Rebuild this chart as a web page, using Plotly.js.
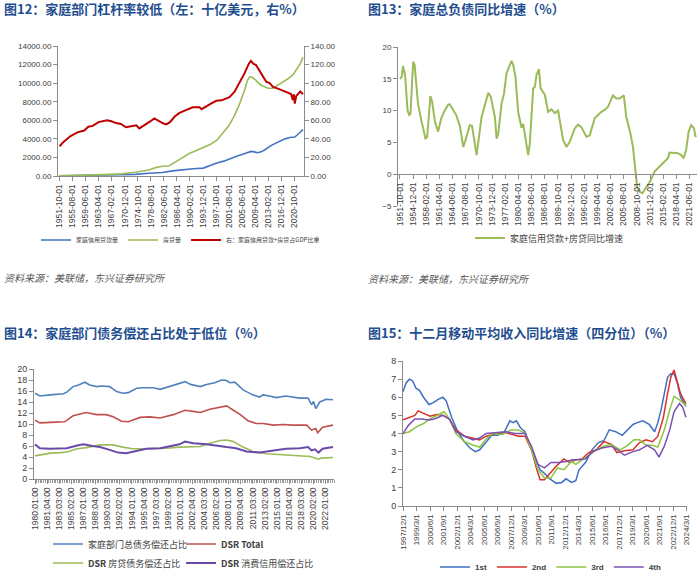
<!DOCTYPE html>
<html><head><meta charset="utf-8">
<script src="https://cdn.plot.ly/plotly-3.0.1.min.js"></script>
<style>html,body{margin:0;padding:0;background:#fff}#c{width:700px;height:573px}</style>
</head><body><div id="c"></div>
<script>
// ---------- Panel 1 (图12) ----------
const p1TickLabels = ["1951-10-01","1955-08-01","1959-06-01","1963-04-01","1967-02-01","1970-12-01","1974-10-01","1978-08-01","1982-06-01","1986-04-01","1990-02-01","1993-12-01","1997-10-01","2001-08-01","2005-06-01","2009-04-01","2013-02-01","2016-12-01","2020-10-01"];
const p1CreditX = [1951.75,1956,1960,1965,1970,1974,1978,1982,1985,1988,1991,1994,1996,1998,2000,2002,2004,2006,2008,2009,2010,2011,2012,2014,2016,2018,2019.5,2020.3,2020.9,2022,2023.3];
const p1Credit  = [20,40,60,90,130,180,300,380,550,700,780,850,1150,1400,1600,1900,2150,2400,2650,2600,2500,2600,2800,3300,3650,4000,4150,4150,4200,4550,5000];
const p1MortX = [1951.75,1956,1960,1965,1970,1974,1978,1980,1982,1984,1986,1988,1990,1992,1994,1996,1998,2000,2001.5,2003,2004.5,2006,2007,2007.7,2008.5,2009.5,2010.5,2011.5,2013,2014.5,2016,2017.5,2019,2020.4,2021.5,2022.5,2023.3];
const p1Mort  = [20,40,80,150,230,400,650,900,1050,1100,1550,2000,2450,2750,3050,3400,3850,4700,5400,6400,7600,9100,10300,10700,10600,10300,9900,9700,9450,9450,9800,10100,10500,10900,11500,12100,12800];
const p1RatioX = [1951.75,1953,1955,1957,1959,1960.2,1961.5,1963.2,1965.7,1967,1968.4,1969.8,1971.3,1973,1974.3,1975.2,1977,1978.5,1979.6,1981,1982.3,1983.1,1984.2,1985.6,1987,1988.9,1990.9,1992.9,1993.5,1996,1997.8,1999.4,2000.7,2001.7,2003.2,2004.6,2006.1,2007.4,2008,2008.7,2009.5,2011,2012.5,2013.5,2014.5,2016.5,2018.5,2019.8,2020.3,2020.6,2020.9,2021.3,2022,2022.5,2023.3];
const p1Ratio  = [32,37,43,47,49,53,54,58,60,59,57,56,52.5,54,54.5,51.3,55,59,62,59,56.5,55.6,58,64,68,71,74,74,72,77.5,81,81.5,83.6,85,90.7,99.7,110.5,121,124,121,119.5,110.5,101.5,100,96,93.3,90.7,88.3,81.8,88,78,86,89,91,88];

// ---------- Panel 2 (图13) ----------
const p2TickLabels = ["1951-10-01","1954-12-01","1958-02-01","1961-04-01","1964-06-01","1967-08-01","1970-10-01","1973-12-01","1977-02-01","1980-04-01","1983-06-01","1986-08-01","1989-10-01","1992-12-01","1996-02-01","1999-04-01","2002-06-01","2005-08-01","2008-10-01","2011-12-01","2015-02-01","2018-04-01","2021-06-01"];
const p2X = [1951.75,1952.2,1952.5,1953,1953.6,1954,1954.3,1954.95,1955.3,1956.1,1956.9,1957.9,1958.3,1959.1,1959.5,1960.2,1960.95,1961.7,1962.5,1963.35,1963.75,1964.5,1965.3,1966.2,1967,1967.5,1968.55,1969.1,1969.7,1970.2,1971.4,1972.6,1973,1973.6,1974.6,1975,1975.4,1976.2,1976.8,1977.4,1978.2,1978.6,1979,1979.55,1980.2,1980.6,1981,1981.4,1982,1982.6,1983,1983.8,1984.2,1984.6,1985.2,1985.6,1986.6,1987.4,1988.2,1989,1989.8,1991,1991.8,1992.6,1993.8,1994.6,1995.4,1996.6,1997.4,1998.6,1999.4,2000.2,2001,2001.8,2003,2003.8,2004.6,2005.6,2006.2,2007.2,2007.8,2008.4,2008.8,2009.5,2010.1,2010.8,2011.6,2012.4,2013,2014.2,2015.4,2016.2,2016.6,2018.6,2019.4,2020,2020.6,2021.2,2021.8,2022.5,2022.8,2023];
const p2Growth = [15,15.3,17,15.6,10,9.3,9.5,17.7,17.2,11.1,8.5,5.6,5.8,12.3,11.4,8.2,6.7,8.8,10,10.9,11,10.1,9.3,7.5,4.3,5.3,7.7,7.6,5.3,3,9,11.7,12.8,12.2,9,5.6,6.3,11.1,12.7,15.9,17.4,17.8,17.2,15.3,9.8,8.5,7.3,7.9,5.6,3,4.8,13.5,13.7,15.6,16.5,13.5,12.5,9.8,10.2,9.6,10,5.4,4.3,5.1,7.2,7.8,7.4,5.9,6.1,8.8,9.3,9.8,10.1,10.6,12.4,11.9,11.9,12.4,9,6.4,4.3,0.4,-2,-2.8,-3,-2.2,-1.5,-0.5,0.4,1.2,1.9,2.5,3.4,3.3,3,2.5,3.9,6.7,7.7,7.2,5.9,6.1];

// ---------- Panel 3 (图14) ----------
const p3TickLabels = ["1980:01:00","1981:04:00","1983:03:00","1985:02:00","1987:01:00","1988:04:00","1990:03:00","1992:02:00","1994:01:00","1995:04:00","1997:03:00","1999:02:00","2001:01:00","2002:04:00","2004:03:00","2006:02:00","2008:01:00","2009:04:00","2011:03:00","2013:02:00","2015:01:00","2016:04:00","2018:03:00","2020:02:00","2022:01:00"];
const p3TotalX = [1980,1980.7,1982.2,1984.1,1984.6,1985.5,1986.3,1987.2,1987.9,1988.9,1989.6,1990.8,1991.8,1992.7,1993.5,1994.7,1995.6,1997.1,1998.1,1999.5,2000.9,2001.7,2002.5,2003.9,2004.8,2006,2007,2007.7,2008.2,2008.9,2010.1,2011.5,2012.5,2013,2013.9,2014.9,2016.3,2017.3,2018.3,2019.5,2020,2020.3,2020.6,2021.2,2022.1,2023.1];
const p3Total  = [15.6,15.1,15.3,15.5,15.8,16.8,17.1,17.6,17.1,16.8,16.9,16.8,15.9,15.6,15.7,16.5,16.6,16.6,16.3,16.8,17.4,17.7,17.2,16.8,17.2,17.5,18,17.9,17.5,17.6,16.2,15.3,14.9,15.3,15.1,14.8,15.1,14.9,14.7,14.7,13.5,14.1,12.8,14,14.5,14.4];
const p3DsrX = [1980,1980.7,1982.2,1984.3,1985.5,1986.7,1987.4,1988.9,1990.3,1991.3,1992.5,1993.5,1995.2,1996.6,1998.1,2000,2001.7,2002.9,2003.9,2005.3,2006.8,2007.7,2008.7,2009.7,2010.8,2012,2013,2014.5,2015.9,2017.3,2019.3,2020,2020.6,2020.9,2021.6,2023.1];
const p3Dsr  = [10.7,10.2,10.3,10.4,11.5,11.9,12.1,11.7,11.7,11.3,10.5,10.4,11.2,11.3,11.1,11.7,12.5,12.3,12.1,12.7,13,13.3,12.5,11.7,10.6,10.1,10.1,9.8,9.9,9.8,9.8,8.9,9.2,8.4,9.4,9.8];
const p3MortX = [1980,1982.2,1983.7,1984.6,1986.1,1987.4,1989.4,1991.3,1992.7,1994.1,1995.6,1997.5,1999,2000.9,2002.9,2003.9,2005.3,2006.8,2007.7,2008.7,2010.1,2011.5,2013.5,2014.9,2016.3,2018.3,2019.8,2020.5,2021,2021.4,2023.1];
const p3Mort  = [4.2,4.7,4.8,4.9,5.5,5.7,6.2,6.2,5.8,5.5,5.5,5.5,5.6,5.8,5.8,5.9,6.5,7,7.1,6.8,5.8,5,4.6,4.5,4.3,4.2,4.1,3.8,3.6,3.8,3.9];
const p3ConsX = [1980,1980.7,1982.2,1983.7,1984.6,1986.1,1987,1988.3,1989.4,1990.8,1992,1993.2,1994.7,1996.1,1998.1,1999.5,2000.9,2001.7,2002.9,2004.8,2006.2,2007.7,2009.1,2010.6,2012.5,2013.5,2014.9,2016.3,2018.3,2019.5,2020,2020.5,2021,2021.6,2023.1];
const p3Cons  = [6.3,5.6,5.5,5.5,5.6,6.1,6.3,6,5.8,5.3,4.8,4.7,5.1,5.5,5.6,6,6.3,6.8,6.5,6.3,6,5.8,5.6,5,4.8,5,5.2,5.5,5.6,5.8,5.2,5.4,4.8,5.5,5.8];

// ---------- Panel 4 (图15) ----------
const p4TickLabels = ["1997/12/1","1999/3/1","2000/6/1","2001/9/1","2002/12/1","2004/3/1","2005/6/1","2006/9/1","2007/12/1","2009/3/1","2010/6/1","2011/9/1","2012/12/1","2014/3/1","2015/6/1","2016/9/1","2017/12/1","2019/3/1","2020/6/1","2021/9/1","2022/12/1","2024/3/1"];
const p4Q1X = [1997.9,1998.2,1998.5,1998.8,1999.1,1999.4,1999.8,2000.3,2000.7,2001.2,2001.6,2001.9,2002.4,2002.9,2003.5,2004.1,2004.6,2005,2005.7,2006.1,2006.7,2007.3,2007.8,2008.1,2008.4,2008.8,2009.2,2009.8,2010.3,2010.6,2011,2011.5,2012.1,2012.6,2013,2013.5,2013.9,2014.2,2014.8,2015.4,2016,2016.5,2017,2017.6,2018.2,2018.7,2019.2,2019.6,2020.1,2020.7,2021.2,2021.5,2021.8,2022.1,2022.4,2022.7,2023,2023.3,2023.6,2024.1];
const p4Q1  = [6.3,6.8,7,6.9,6.5,6.4,6,5.6,5.7,5.9,6,5.8,4.9,4.2,3.6,3.2,3,3.1,3.6,3.9,3.9,4.1,4.7,4.6,4.7,4.3,4.1,3.1,2.4,2,1.8,1.5,1.25,1.3,1.5,1.3,1.4,2,2.4,3.1,3.5,3.6,4.2,4.1,3.9,4.2,4.5,4.6,4.7,4.5,4.1,4.6,5.3,6.2,7.1,7.3,7.3,6.8,6,5.5];
const p4Q2X = [1997.9,1998.4,1999,1999.3,1999.8,2000.4,2001,2001.6,2002.2,2002.8,2003.6,2004.4,2005,2005.6,2006.5,2007.4,2008,2008.6,2009.2,2009.8,2010.3,2010.6,2011,2011.5,2012.1,2012.8,2013.3,2013.9,2014.5,2015.1,2015.8,2016.5,2017.2,2017.7,2018.4,2019.2,2019.8,2020.4,2021,2021.5,2022,2022.4,2022.7,2023,2023.3,2023.6,2024.1];
const p4Q2  = [4.75,4.85,5,5.25,5.1,4.95,5.05,5,4.8,4.2,3.85,3.75,3.65,3.85,4,4.05,3.95,3.85,3.85,3.1,2,1.45,1.45,1.8,2.2,2.6,2.4,2.55,2.6,2.95,3.1,3.55,3.4,2.95,3.05,3.1,3.5,3.65,3.55,3.85,4.85,6.2,7.1,7.5,6.8,6.2,5.65];
const p4Q3X = [1997.9,1998.5,1999.1,1999.8,2000.4,2001,2001.7,2002.2,2002.8,2003.6,2004.4,2005,2005.6,2006.2,2007.1,2007.9,2008.6,2009.2,2009.8,2010.4,2011,2011.6,2012.2,2012.8,2013.5,2013.9,2014.5,2015.1,2015.8,2016.5,2017.2,2018,2018.6,2019.3,2019.8,2020.4,2021,2021.5,2022.1,2022.6,2023,2023.5,2024.1];
const p4Q3  = [4,4.1,4.35,4.55,4.8,5,5.2,4.8,4,3.55,3.35,3.25,3.7,4,3.95,4.2,4.2,4,3.1,2,1.55,1.55,2.1,2,2.45,2.3,2.55,2.85,3.1,3.3,3.4,3.1,3.3,3.65,3.65,3.35,3.35,3.25,4.2,5.3,6.05,5.85,5.55];
const p4Q4X = [1997.9,1998.4,1999,1999.6,2000.3,2000.8,2001.6,2002.2,2002.8,2003.6,2004.4,2005,2005.6,2006.5,2007.4,2008.3,2009.2,2009.8,2010.4,2011,2011.6,2012.3,2013,2013.6,2014.2,2014.8,2015.5,2016.3,2017.2,2017.8,2018.4,2019.2,2019.8,2020.5,2021.2,2021.6,2022.1,2022.6,2023,2023.5,2023.8,2024.1];
const p4Q4  = [4,4.45,4.8,4.8,4.75,4.8,5,4.8,4.1,3.85,3.65,3.75,4,4.05,4.1,4,4,3.3,2.3,2.1,2.4,2.4,2.45,2.55,2.55,2.6,3,3.2,3.3,3.1,2.8,3,3.1,3.35,3.1,2.7,3.3,4.2,5.2,5.65,5.45,4.9];

// ---------- helpers ----------
const W = 700, H = 573;
const px = v => v / W;
const py = v => 1 - v / H;
const ymdToYear = s => { const p = s.split(/[-\/]/).map(Number); return p[0] + (p[1] - 1) / 12; };
const yqToYear = s => { const p = s.split(':').map(Number); return p[0] + (p[1] - 1) / 4; };

const TICKFONT = {family: 'Liberation Sans, Arial, sans-serif', size: 8, color: '#404040'};
const AX = {showgrid: false, zeroline: false, showline: true, linecolor: '#8c8c8c', linewidth: 1,
            ticks: 'outside', ticklen: 4, tickcolor: '#8c8c8c', tickfont: TICKFONT, fixedrange: true, automargin: false};
const CJK = 'Noto Sans CJK SC, sans-serif';

const traces = [
  {x: p1CreditX, y: p1Credit, name: '家庭信用贷款量', type: 'scatter', mode: 'lines', xaxis: 'x', yaxis: 'y',
   line: {color: '#4472C4', width: 1.6}, legend: 'legend'},
  {x: p1MortX, y: p1Mort, name: '房贷量', type: 'scatter', mode: 'lines', xaxis: 'x', yaxis: 'y',
   line: {color: '#9BBB59', width: 1.6}, legend: 'legend'},
  {x: p1RatioX, y: p1Ratio, name: '右：家庭信用贷款+房贷占GDP比重', type: 'scatter', mode: 'lines', xaxis: 'x', yaxis: 'y2',
   line: {color: '#C00000', width: 2}, legend: 'legend'},

  {x: p2X, y: p2Growth, name: '家庭信用贷款+房贷同比增速', type: 'scatter', mode: 'lines', xaxis: 'x2', yaxis: 'y3',
   line: {color: '#9BBB59', width: 2}, legend: 'legend2'},

  {x: p3TotalX, y: p3Total, name: '家庭部门总债务偿还占比', type: 'scatter', mode: 'lines', xaxis: 'x3', yaxis: 'y4',
   line: {color: '#4F81BD', width: 1.6}, legend: 'legend3'},
  {x: p3DsrX, y: p3Dsr, name: '<b>DSR Total</b>', type: 'scatter', mode: 'lines', xaxis: 'x3', yaxis: 'y4',
   line: {color: '#C0504D', width: 1.6}, legend: 'legend3'},
  {x: p3MortX, y: p3Mort, name: '<b>DSR</b> 房贷债务偿还占比', type: 'scatter', mode: 'lines', xaxis: 'x3', yaxis: 'y4',
   line: {color: '#9BBB59', width: 1.6}, legend: 'legend4'},
  {x: p3ConsX, y: p3Cons, name: '<b>DSR</b> 消费信用偿还占比', type: 'scatter', mode: 'lines', xaxis: 'x3', yaxis: 'y4',
   line: {color: '#6A4AA8', width: 2}, legend: 'legend4'},

  {x: p4Q1X, y: p4Q1, name: '<b>1st</b>', type: 'scatter', mode: 'lines', xaxis: 'x4', yaxis: 'y5',
   line: {color: '#3E6FC2', width: 1.5}, legend: 'legend5'},
  {x: p4Q2X, y: p4Q2, name: '<b>2nd</b>', type: 'scatter', mode: 'lines', xaxis: 'x4', yaxis: 'y5',
   line: {color: '#D8312B', width: 1.5}, legend: 'legend5'},
  {x: p4Q3X, y: p4Q3, name: '<b>3rd</b>', type: 'scatter', mode: 'lines', xaxis: 'x4', yaxis: 'y5',
   line: {color: '#8CC63F', width: 1.5}, legend: 'legend5'},
  {x: p4Q4X, y: p4Q4, name: '<b>4th</b>', type: 'scatter', mode: 'lines', xaxis: 'x4', yaxis: 'y5',
   line: {color: '#7A52B3', width: 1.5}, legend: 'legend5'}
];

const titleFont = {family: CJK, size: 13, color: '#1F4E8F', weight: 'bold'};
const srcFont = {family: CJK, size: 10, color: '#595959', style: 'italic'};
const ann = (text, x, y, font) => ({text, x: px(x), y: py(y), xref: 'paper', yref: 'paper',
  xanchor: 'left', yanchor: 'middle', showarrow: false, font});

const legendBase = {orientation: 'h', bgcolor: 'rgba(0,0,0,0)', xanchor: 'left', yanchor: 'middle',
  itemclick: false, itemdoubleclick: false, tracegroupgap: 0};

const layout = {
  width: W, height: H, margin: {l: 0, r: 0, t: 0, b: 0, pad: 0, autoexpand: false}, paper_bgcolor: '#fff', plot_bgcolor: '#fff',
  showlegend: true,
  font: {family: CJK, color: '#404040'},
  xaxis: Object.assign({}, AX, {domain: [px(58), px(304)], range: [1951.3, 2023.6], anchor: 'y',
    tickmode: 'array', tickvals: p1TickLabels.map(ymdToYear), ticktext: p1TickLabels, tickangle: -90,
    tickfont: Object.assign({}, TICKFONT, {size: 8.5})}),
  yaxis: Object.assign({}, AX, {domain: [py(176), py(46)], range: [0, 14000], dtick: 2000, tickformat: '.2f', anchor: 'x'}),
  yaxis2: Object.assign({}, AX, {overlaying: 'y', side: 'right', range: [0, 140], dtick: 20, tickformat: '.2f', anchor: 'x'}),

  xaxis2: Object.assign({}, AX, {domain: [px(398), px(697)], range: [1951.3, 2023.2], anchor: 'free', position: py(174),
    tickmode: 'array', tickvals: p2TickLabels.map(ymdToYear), ticktext: p2TickLabels, tickangle: -90,
    tickfont: Object.assign({}, TICKFONT, {size: 8.5})}),
  yaxis3: Object.assign({}, AX, {domain: [py(206), py(47)], range: [-5, 20], dtick: 5, anchor: 'x2'}),

  xaxis3: Object.assign({}, AX, {domain: [px(34), px(334)], range: [1979.85, 2023.25], anchor: 'y4',
    tickmode: 'array', tickvals: p3TickLabels.map(yqToYear), ticktext: p3TickLabels, tickangle: -90,
    tickfont: Object.assign({}, TICKFONT, {size: 8.5}),
    minor: {dtick: 0.25, tick0: 1980, ticklen: 3, tickcolor: '#9a9a9a', ticks: 'outside'}}),
  yaxis4: Object.assign({}, AX, {domain: [py(479), py(369)], range: [0, 20], dtick: 2, anchor: 'x3',
    tickfont: Object.assign({}, TICKFONT, {size: 9})}),

  xaxis4: Object.assign({}, AX, {domain: [px(403), px(687)], range: [1997.9, 2024.2], anchor: 'y5',
    tickmode: 'array', tickvals: p4TickLabels.map(ymdToYear), ticktext: p4TickLabels, tickangle: -90,
    tickfont: Object.assign({}, TICKFONT, {size: 8})}),
  yaxis5: Object.assign({}, AX, {domain: [py(506), py(361)], range: [0, 8], dtick: 1, anchor: 'x4',
    tickfont: Object.assign({}, TICKFONT, {size: 9})}),

  legend: Object.assign({}, legendBase, {x: px(36), y: py(240), font: {family: CJK, size: 6, color: '#404040'}}),
  legend2: Object.assign({}, legendBase, {x: px(470), y: py(238), font: {family: CJK, size: 9, color: '#404040'}}),
  legend3: Object.assign({}, legendBase, {x: px(48), y: py(544), entrywidth: 88, font: {family: CJK, size: 9, color: '#404040'}}),
  legend4: Object.assign({}, legendBase, {x: px(48), y: py(563), entrywidth: 88, font: {family: CJK, size: 9, color: '#404040'}}),
  legend5: Object.assign({}, legendBase, {x: px(435), y: py(567), font: {family: 'Liberation Sans, Arial, sans-serif', size: 8, color: '#404040'}}),

  annotations: [
    ann('图12：家庭部门杠杆率较低（左：十亿美元，右%）', 2, 9, titleFont),
    ann('图13：家庭总负债同比增速（%）', 366, 9, titleFont),
    ann('图14：家庭部门债务偿还占比处于低位（%）', 2, 332, titleFont),
    ann('图15：十二月移动平均收入同比增速（四分位）（%）', 366, 332, titleFont),
    ann('资料来源：美联储，东兴证券研究所', 2, 277, srcFont),
    ann('资料来源：美联储，东兴证券研究所', 366, 278, srcFont)
  ]
};

Plotly.newPlot('c', traces, layout, {staticPlot: true, displayModeBar: false});
</script></body></html>
